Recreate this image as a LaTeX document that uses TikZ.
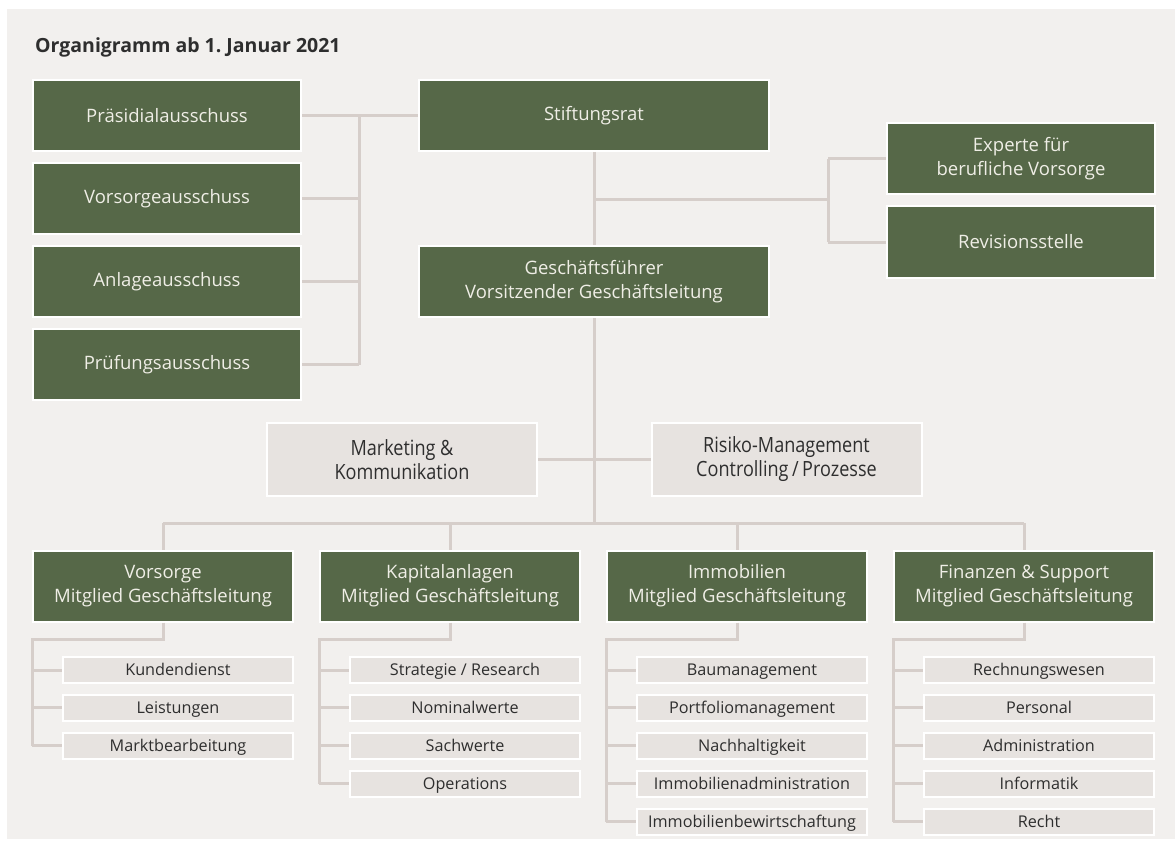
\documentclass[tikz,border=0pt]{standalone}
\usepackage{fontspec}
\setmainfont{Open Sans}
\newfontfamily\condfont{Open Sans}[FakeStretch=0.86]
\usepackage{xcolor}
\usepackage{tikz}
\usetikzlibrary{positioning,calc}

\definecolor{panelgray}{HTML}{F2F0EE}
\definecolor{boxgreen}{HTML}{566848}
\definecolor{greentext}{HTML}{EFEEE6}
\definecolor{boxgray}{HTML}{E7E3E0}
\definecolor{darktext}{HTML}{2E2E2E}
\definecolor{linegray}{HTML}{D6CECA}

\begin{document}
\begin{tikzpicture}[x=1pt,y=-1pt,
    gbox/.style={draw=white,line width=2pt,fill=boxgreen,text=greentext,align=center,inner sep=0pt,
      minimum width=268,minimum height=71,font=\fontsize{18.5}{24}\selectfont},
    wbox/.style={gbox,minimum width=350},
    lbox/.style={draw=white,line width=2pt,fill=boxgray,text=darktext,align=center,inner sep=0pt,
      minimum width=270,minimum height=73,font=\condfont\fontsize{21}{24}\selectfont},
    colbox/.style={gbox,minimum width=260},
    subbox/.style={draw=white,line width=2pt,fill=boxgray,text=darktext,inner sep=0pt,
      text height=13pt,text depth=1.5pt,
      minimum width=230,minimum height=26,font=\fontsize{16.2}{18}\selectfont},
    conn/.style={draw=linegray,line width=3pt}]
  \useasboundingbox (0,0) rectangle (1175,845);
  \fill[white] (0,0) rectangle (1175,845);
  \fill[panelgray] (7,9) rectangle (1175,839);

  % title
  \node[anchor=base west,inner sep=0pt,text=darktext,font=\fontsize{19.5}{22}\selectfont\bfseries] (title) at (35,53) {Organigramm ab 1.~Januar 2021};

  % committees and board
  \node[gbox] (praes) at (167,115.5) {Präsidialausschuss};
  \node[gbox] (vors) at (167,198.5) {Vorsorgeausschuss};
  \node[gbox] (anlage) at (167,281.5) {Anlageausschuss};
  \node[gbox] (pruef) at (167,364.5) {Prüfungsausschuss};
  \node[wbox] (stift) at (594,115.5) {Stiftungsrat};
  \node[gbox] (experte) at (1021,159) {Experte für\\berufliche Vorsorge};
  \node[gbox] (revision) at (1021,242) {Revisionsstelle};
  \node[wbox] (gf) at (594,281.5) {Geschäftsführer\\Vorsitzender Geschäftsleitung};

  \coordinate (cbar) at (359,0);
  \coordinate (ebar) at (828,200);
  \coordinate (bus) at (0,523);

  \draw[conn] (praes.east) -- (stift.west);
  \draw[conn] (praes.east -| cbar) -- (pruef.east -| cbar);
  \foreach \c in {vors,anlage,pruef}
    \draw[conn] (\c.east) -- (\c.east -| cbar);
  \draw[conn] (stift.south) -- (gf.north);
  \draw[conn] (stift.south |- ebar) -- (ebar);
  \draw[conn] (experte.west -| ebar) -- (revision.west -| ebar);
  \draw[conn] (experte.west -| ebar) -- (experte.west);
  \draw[conn] (revision.west -| ebar) -- (revision.west);

  % staff units
  \node[lbox] (mark) at (402,459.5) {Marketing \&\\Kommunikation};
  \node[lbox] (risiko) at (786.5,459.5) {Risiko-Management\\Controlling\,/\,Prozesse};
  \draw[conn] (mark.east) -- (risiko.west);
  \draw[conn] (gf.south) -- (gf.south |- bus);

  % departments
  \node[colbox] (colV) at (163,586) {Vorsorge\\Mitglied Geschäftsleitung};
  \node[colbox] (colK) at (450,586) {Kapitalanlagen\\Mitglied Geschäftsleitung};
  \node[colbox] (colI) at (737,586) {Immobilien\\Mitglied Geschäftsleitung};
  \node[colbox] (colF) at (1024,586) {Finanzen \& Support\\Mitglied Geschäftsleitung};
  \draw[conn] (colV.north |- bus) -- (colF.north |- bus);
  \foreach \c in {colV,colK,colI,colF}
    \draw[conn] (\c.north |- bus) -- (\c.north);

  \foreach \t [count=\i] in {Kundendienst,Leistungen,Marktbearbeitung}
    \node[subbox] (subV\i) at (178,{670+37.9*(\i-1)}) {\t};
  \foreach \t [count=\i] in {Strategie / Research,Nominalwerte,Sachwerte,Operations}
    \node[subbox] (subK\i) at (465,{670+37.9*(\i-1)}) {\t};
  \foreach \t [count=\i] in {Baumanagement,Portfoliomanagement,Nachhaltigkeit,Immobilienadministration,Immobilienbewirtschaftung}
    \node[subbox] (subI\i) at (752,{670+37.9*(\i-1)}) {\t};
  \foreach \t [count=\i] in {Rechnungswesen,Personal,Administration,Informatik,Recht}
    \node[subbox] (subF\i) at (1039,{670+37.9*(\i-1)}) {\t};

  \foreach \c/\n in {V/3,K/4,I/5,F/5} {
    \coordinate (k\c) at ($(col\c.south west)+(0,17)$);
    \draw[conn] (col\c.south) |- (k\c) -- (k\c |- sub\c\n.west);
    \foreach \i in {1,...,\n}
      \draw[conn] (k\c |- sub\c\i.west) -- (sub\c\i.west);
  }
\end{tikzpicture}
\end{document}
